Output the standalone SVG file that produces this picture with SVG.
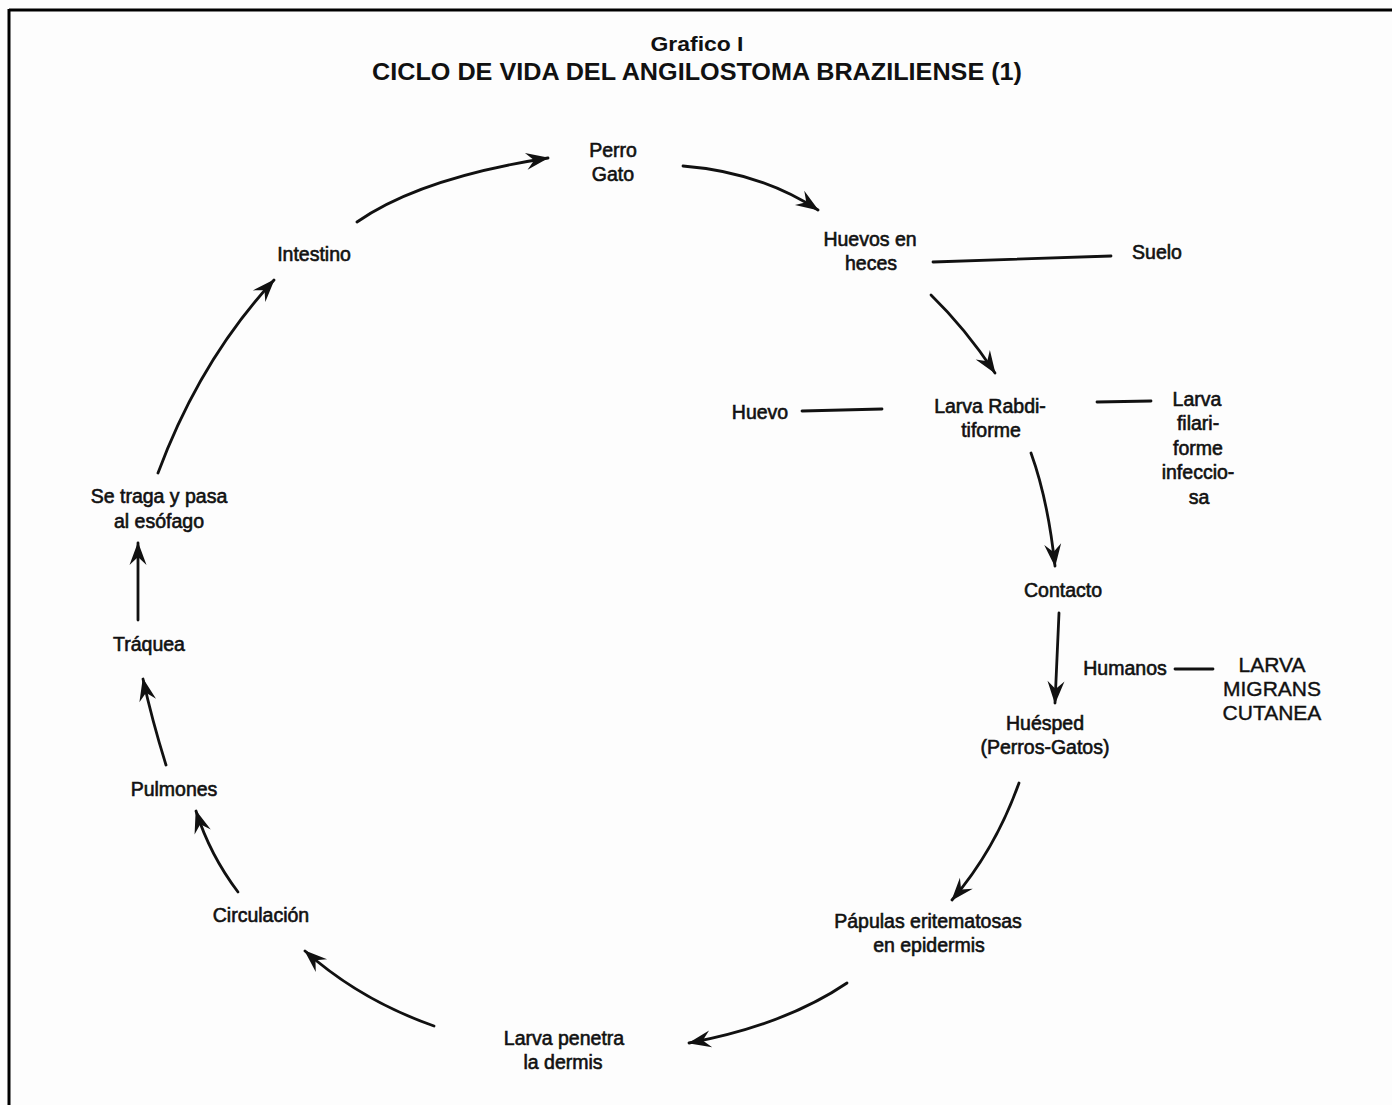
<svg xmlns="http://www.w3.org/2000/svg" width="1392" height="1105" viewBox="0 0 1392 1105">
<style>
.t{font-family:"Liberation Sans",Arial,sans-serif;font-size:19.5px;fill:#111;stroke:#111;stroke-width:0.6;text-anchor:middle}
.c{font-family:"Liberation Sans",Arial,sans-serif;font-size:21px;fill:#111;stroke:#111;stroke-width:0.4;text-anchor:middle}
.h{font-family:"Liberation Sans",Arial,sans-serif;font-weight:bold;fill:#111;text-anchor:middle}
.e{fill:none;stroke:#111;stroke-width:2.8;stroke-linecap:round}
.a{marker-end:url(#arr)}
</style>
<defs>
<marker id="arr" viewBox="-24 -10 26 20" refX="0" refY="0" markerWidth="26" markerHeight="20" markerUnits="userSpaceOnUse" orient="auto">
<path d="M1,0 L-22,-8.5 L-14,0 L-22,8.5 Z" fill="#111"/>
</marker>
</defs>
<rect width="1392" height="1105" fill="#fdfdfd"/>
<g id="frame">
<line x1="9" y1="10" x2="1392" y2="10" stroke="#000" stroke-width="3"/>
<line x1="9" y1="9" x2="9" y2="1105" stroke="#000" stroke-width="3"/>
</g>
<g id="title">
<text class="h" x="697" y="51" font-size="21" textLength="93" lengthAdjust="spacingAndGlyphs">Grafico I</text>
<text class="h" x="697" y="80" font-size="24" textLength="650" lengthAdjust="spacingAndGlyphs">CICLO DE VIDA DEL ANGILOSTOMA BRAZILIENSE (1)</text>
</g>
<g id="connectors">
<path class="e a" d="M357,222 Q420,178 548,158"/>
<path class="e a" d="M683,166 Q760,172 818,210"/>
<path class="e" d="M933,262 L1111,256"/>
<path class="e a" d="M931,295 Q965,328 995,373"/>
<path class="e" d="M802,411 L882,409"/>
<path class="e" d="M1097,402 L1151,401"/>
<path class="e a" d="M1031,453 Q1048,500 1055,566"/>
<path class="e a" d="M1059,613 L1055,703"/>
<path class="e" d="M1175,669 L1213,669"/>
<path class="e a" d="M1019,783 Q995,850 952,900"/>
<path class="e a" d="M847,983 Q785,1025 689,1043"/>
<path class="e a" d="M434,1026 Q360,1000 305,951"/>
<path class="e a" d="M238,892 Q210,855 196,811"/>
<path class="e a" d="M166,765 Q152,720 143,679"/>
<path class="e a" d="M138,620 L138,543"/>
<path class="e a" d="M158,473 Q200,360 274,280"/>
</g>
<g id="perro"><text class="t" x="613" y="157">Perro</text><text class="t" x="613" y="181">Gato</text></g>
<g id="huevos"><text class="t" x="870" y="246">Huevos en</text><text class="t" x="871" y="270">heces</text></g>
<g id="suelo"><text class="t" x="1157" y="259">Suelo</text></g>
<g id="huevo"><text class="t" x="760" y="419">Huevo</text></g>
<g id="rabdi"><text class="t" x="990" y="413">Larva Rabdi-</text><text class="t" x="991" y="437">tiforme</text></g>
<g id="filari"><text class="t" x="1197" y="406">Larva</text><text class="t" x="1198" y="430">filari-</text><text class="t" x="1198" y="455">forme</text><text class="t" x="1198" y="479">infeccio-</text><text class="t" x="1199" y="504">sa</text></g>
<g id="contacto"><text class="t" x="1063" y="597">Contacto</text></g>
<g id="humanos"><text class="t" x="1125" y="675">Humanos</text></g>
<g id="lmc"><text class="c" x="1272" y="672">LARVA</text><text class="c" x="1272" y="696">MIGRANS</text><text class="c" x="1272" y="720">CUTANEA</text></g>
<g id="huesped"><text class="t" x="1045" y="730">Huésped</text><text class="t" x="1045" y="754">(Perros-Gatos)</text></g>
<g id="papulas"><text class="t" x="928" y="928">Pápulas eritematosas</text><text class="t" x="929" y="952">en epidermis</text></g>
<g id="larva-penetra"><text class="t" x="564" y="1045">Larva penetra</text><text class="t" x="563" y="1069">la dermis</text></g>
<g id="circulacion"><text class="t" x="261" y="922">Circulación</text></g>
<g id="pulmones"><text class="t" x="174" y="796">Pulmones</text></g>
<g id="traquea"><text class="t" x="149" y="651">Tráquea</text></g>
<g id="setraga"><text class="t" x="159" y="503">Se traga y pasa</text><text class="t" x="159" y="528">al esófago</text></g>
<g id="intestino"><text class="t" x="314" y="261">Intestino</text></g>
</svg>
